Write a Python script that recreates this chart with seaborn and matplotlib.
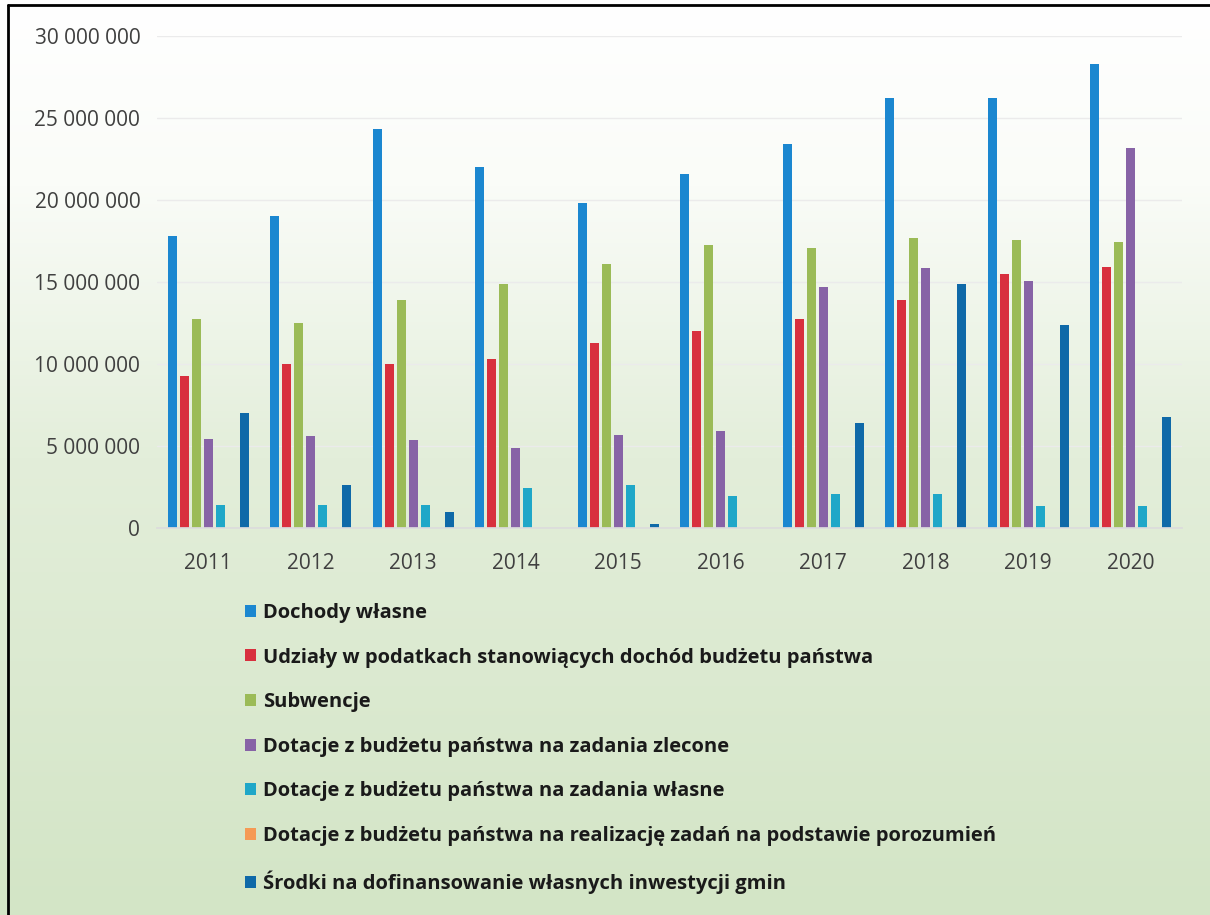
import numpy as np
import pandas as pd
import matplotlib
matplotlib.use("Agg")
import matplotlib.pyplot as plt
import matplotlib.ticker as mticker
from matplotlib.patches import Patch
from matplotlib.lines import Line2D
from matplotlib.colors import LinearSegmentedColormap
import seaborn as sns

# ─── DATA (PLN) ───────────────────────────────────────────────────────────────
years = ["2011", "2012", "2013", "2014", "2015", "2016", "2017", "2018", "2019", "2020"]

series_names = [
    "Dochody własne",
    "Udziały w podatkach stanowiących dochód budżetu państwa",
    "Subwencje",
    "Dotacje z budżetu państwa na zadania zlecone",
    "Dotacje z budżetu państwa na zadania własne",
    "Dotacje z budżetu państwa na realizację zadań na podstawie porozumień",
    "Środki na dofinansowanie własnych inwestycji gmin",
]

dochody_wlasne = [17.8e6, 19.0e6, 24.3e6, 22.0e6, 19.8e6, 21.6e6, 23.4e6, 26.2e6, 26.2e6, 28.3e6]
udzialy        = [9.25e6, 10.0e6, 10.0e6, 10.3e6, 11.3e6, 12.0e6, 12.75e6, 13.9e6, 15.5e6, 15.9e6]
subwencje      = [12.75e6, 12.5e6, 13.9e6, 14.9e6, 16.1e6, 17.25e6, 17.1e6, 17.7e6, 17.55e6, 17.45e6]
dot_zlecone    = [5.45e6, 5.6e6, 5.35e6, 4.9e6, 5.65e6, 5.9e6, 14.7e6, 15.85e6, 15.05e6, 23.15e6]
dot_wlasne     = [1.4e6, 1.4e6, 1.4e6, 2.45e6, 2.65e6, 1.95e6, 2.05e6, 2.05e6, 1.35e6, 1.35e6]
dot_porozum    = [0, 0, 0, 0, 0, 0, 0, 0, 0, 0]
srodki_inwest  = [7.0e6, 2.6e6, 0.95e6, 0, 0.25e6, 0, 6.4e6, 14.9e6, 12.4e6, 6.75e6]

colors = ["#1b87d0", "#d8303e", "#9bbb57", "#8763a6", "#1fa7c8", "#f59a55", "#0f69a8"]

all_values = [dochody_wlasne, udzialy, subwencje, dot_zlecone,
              dot_wlasne, dot_porozum, srodki_inwest]

df = pd.DataFrame([
    {"Rok": y, "Kategoria": name, "Kwota": v}
    for name, vals in zip(series_names, all_values)
    for y, v in zip(years, vals)
])

# ─── FIGURE ───────────────────────────────────────────────────────────────────
sns.set_theme(style="white")
plt.rcParams["font.family"] = ["Open Sans", "DejaVu Sans"]

fig = plt.figure(figsize=(12.1, 9.15), dpi=100)

# gradient background (white at top -> pale green at bottom)
bg = fig.add_axes([0, 0, 1, 1], zorder=-10)
cmap = LinearSegmentedColormap.from_list(
    "bg", [(0.0, "#d3e5c6"), (0.5, "#e3eeda"), (0.8, "#fafcf8"), (1.0, "#ffffff")])
bg.imshow(np.linspace(0, 1, 256).reshape(-1, 1), aspect="auto", cmap=cmap,
          origin="lower", extent=[0, 1, 0, 1])
bg.axis("off")

ax = fig.add_axes([157 / 1210, 1 - 528 / 915, 1025 / 1210, 492 / 915])
ax.set_facecolor("none")

sns.barplot(data=df, x="Rok", y="Kwota", hue="Kategoria", hue_order=series_names,
            palette=colors, width=0.82, gap=0.25, saturation=1, linewidth=0,
            ax=ax, legend=False)

ax.set_ylim(0, 30e6)
ax.yaxis.set_major_locator(mticker.MultipleLocator(5e6))
ax.yaxis.set_major_formatter(mticker.FuncFormatter(lambda v, _: f"{int(v):,}".replace(",", " ")))
ax.grid(axis="y", color="#ebebeb", lw=1)
ax.set_axisbelow(True)
for s in ["top", "right", "left"]:
    ax.spines[s].set_visible(False)
ax.spines["bottom"].set_color("#dcdcdc")
ax.set_xlabel("")
ax.set_ylabel("")
ax.tick_params(axis="y", length=0, pad=12, labelsize=15, labelcolor="#404040")
ax.tick_params(axis="x", length=0, pad=18, labelsize=15, labelcolor="#404040")

# legend below the plot
handles = [Patch(facecolor=c, edgecolor="none") for c in colors]
fig.legend(handles, series_names, loc="upper left", bbox_to_anchor=(0.2025, 0.341),
           frameon=False, borderpad=0, borderaxespad=0, handlelength=0.55,
           handleheight=0.55, handletextpad=0.35, labelspacing=1.22,
           prop={"size": 14.5, "weight": "bold"}, labelcolor="#1a1a1a")

# scanned frame (top and left edges)
fig.add_artist(Line2D([8 / 1210, 1], [1 - 5 / 915, 1 - 5 / 915], color="black", lw=2,
                      transform=fig.transFigure))
fig.add_artist(Line2D([8 / 1210, 8 / 1210], [0, 1 - 5 / 915], color="black", lw=2,
                      transform=fig.transFigure))

fig.savefig("out.png", dpi=100)
